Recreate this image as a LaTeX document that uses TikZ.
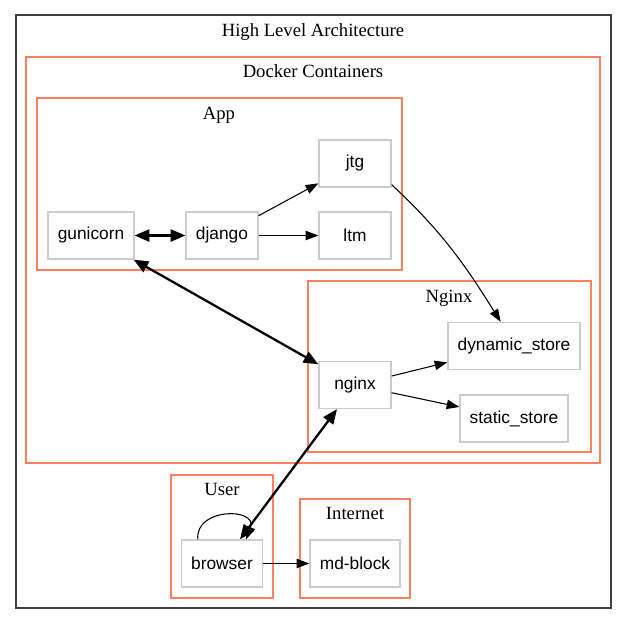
\documentclass[tikz,border=0pt]{standalone}
\usepackage{fontspec}
\setmainfont{Liberation Serif}
\setsansfont{Liberation Sans}
\usetikzlibrary{arrows.meta}
\definecolor{clusterred}{RGB}{255,127,96}
\definecolor{boxgray}{RGB}{204,204,204}
\tikzset{
	svc/.style={draw=boxgray, line width=1pt, font=\sffamily\fontsize{13}{15}\selectfont, minimum height=35.25pt, inner sep=0pt},
	cluster/.style={draw=clusterred, line width=0.8pt},
	clabel/.style={anchor=base, font=\fontsize{14}{16}\selectfont, inner sep=0pt},
	link/.style={-{Triangle[length=9.5pt,width=7pt]}, line width=0.8pt},
	duplex/.style={{Triangle[length=11pt,width=9pt]}-{Triangle[length=11pt,width=9pt]}, line width=1.7pt}
}
\begin{document}
\begin{tikzpicture}[x=0.75pt,y=-0.75pt]
		\useasboundingbox (0,0) rectangle (628,625);
		%clusters
		\draw[black!75, line width=1.2pt] (16,15) rectangle (611,608);
		\node[clabel] (hla) at (313,36) {High Level Architecture};
		\draw[cluster] (26,57) rectangle (600,463);
		\node[clabel] (docker) at (313,77.5) {Docker Containers};
		\draw[cluster] (37,98) rectangle (402,270);
		\node[clabel] (app) at (219,119) {App};
		\draw[cluster] (308,281) rectangle (591,452);
		\node[clabel] (nginxlbl) at (449,302) {Nginx};
		\draw[cluster] (171,475) rectangle (273,598);
		\node[clabel] (user) at (222,495.5) {User};
		\draw[cluster] (300,499) rectangle (410,598);
		\node[clabel] (internet) at (355,519) {Internet};
		%nodes
		\node[svc, minimum width=64.5pt] (gunicorn) at (91,235.5) {gunicorn};
		\node[svc, minimum width=54pt] (django) at (222,235.5) {django};
		\node[svc, minimum width=54pt] (jtg) at (355,163.5) {jtg};
		\node[svc, minimum width=54pt] (ltm) at (355,235.5) {ltm};
		\node[svc, minimum width=54pt] (nginx) at (355,385) {nginx};
		\node[svc, minimum width=99pt] (dynamic_store) at (514,346) {dynamic\_store};
		\node[svc, minimum width=81pt] (static_store) at (514,418.5) {static\_store};
		\node[svc, minimum width=61pt] (browser) at (222,563.5) {browser};
		\node[svc, minimum width=67.5pt] (mdblock) at (355,563.5) {md-block};
		%arrows
		\draw[duplex] (gunicorn) -- (django);
		\draw[link] (django) -- (jtg);
		\draw[link] (django) -- (ltm);
		\draw[link] (jtg.-30) to[out=-43,in=122] ([xshift=-10pt]dynamic_store.north);
		\draw[duplex] (gunicorn) -- (nginx);
		\draw[duplex] (nginx) -- (browser);
		\draw[link] (nginx) -- (dynamic_store);
		\draw[link] (nginx) -- (static_store);
		\draw[link] (browser.135) .. controls +(-3,-32) and +(12,-32) .. (browser.45);
		\draw[link] (browser) -- (mdblock);
	\end{tikzpicture}
\end{document}
